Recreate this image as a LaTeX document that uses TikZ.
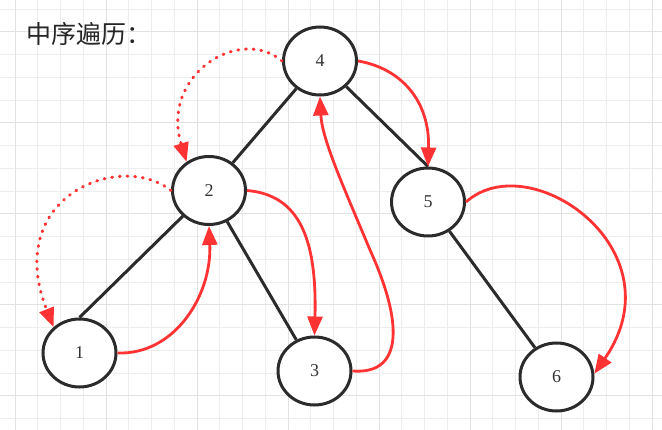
\documentclass[tikz,border=0pt]{standalone}
\usepackage{fontspec}
\setmainfont{Liberation Serif}
\newfontfamily\cjk{Noto Sans CJK SC}
\usetikzlibrary{arrows.meta,shapes.geometric}
\definecolor{gridminor}{HTML}{EDEDED}
\definecolor{gridmajor}{HTML}{E2E2E2}
\definecolor{edgeblack}{HTML}{2B2B2B}
\definecolor{arrred}{HTML}{FF3333}
\begin{document}
\begin{tikzpicture}[x=1pt,y=-1pt,
  tnode/.style={draw=edgeblack, ellipse, line width=3pt, fill=white,
    minimum width=73pt, minimum height=68pt, inner sep=0pt,
    text=black!80, font=\fontsize{18}{20}\selectfont},
  treeedge/.style={draw=edgeblack, line width=3pt},
  visit/.style={draw=arrred, line width=2.8pt,
    -{Triangle[length=19pt,width=15pt]}},
  backtrack/.style={visit, line width=3pt, line cap=round, dash pattern=on 0.9pt off 6.8pt}]
\useasboundingbox (0,0) rectangle (662,430);
\fill[white] (0,0) rectangle (662,430);
% grid
\foreach \i in {0,...,28} {
  \draw[gridminor, line width=1pt] ({15+22.75*\i},0) -- ({15+22.75*\i},430);
}
\foreach \j in {0,...,18} {
  \draw[gridminor, line width=1pt] (0,{9.25+22.75*\j}) -- (662,{9.25+22.75*\j});
}
\foreach \i in {0,...,7} {
  \draw[gridmajor, line width=1pt] ({15+91*\i},0) -- ({15+91*\i},430);
}
\foreach \j in {0,...,4} {
  \draw[gridmajor, line width=1pt] (0,{32+91*\j}) -- (662,{32+91*\j});
}
% title
\node[anchor=west, inner sep=0pt, text=black!85,
  font=\cjk\fontsize{25}{30}\selectfont] (title) at (26,34) {中序遍历：};
% tree nodes
\node[tnode] (n4) at (320,61) {4};
\node[tnode] (n2) at (209,190.5) {2};
\node[tnode] (n1) at (79.5,353) {1};
\node[tnode] (n3) at (314.5,371) {3};
\node[tnode] (n5) at (428,202) {5};
\node[tnode] (n6) at (556.5,377) {6};
% tree edges
\draw[treeedge] (n4) -- (n2);
\draw[treeedge] (n4) -- (n5.north);
\draw[treeedge] (n2) -- (n1.north);
\draw[treeedge] (n2) -- (n3);
\draw[treeedge] (n5) -- (n6);
% traversal arrows
\draw[backtrack] (n4.west) .. controls (240,25) and (160,75) .. (n2.128);
\draw[backtrack] (n2.west) .. controls (120,150) and (2,197) .. (n1.135);
\draw[visit] (n1.east) .. controls (175,355) and (212,295) .. (n2.south);
\draw[visit] (n2.east) .. controls (300,195) and (317,240) .. (n3.north);
\draw[visit] (n3.east) .. controls (405,375) and (402,320) .. (370,250)
  .. controls (345,190) and (322,140) .. (n4.south);
\draw[visit] (n4.east) .. controls (400,68) and (430,100) .. (n5.north);
\draw[visit] (n5.east) .. controls (530,145) and (680,250) .. (n6.5);
\end{tikzpicture}
\end{document}
